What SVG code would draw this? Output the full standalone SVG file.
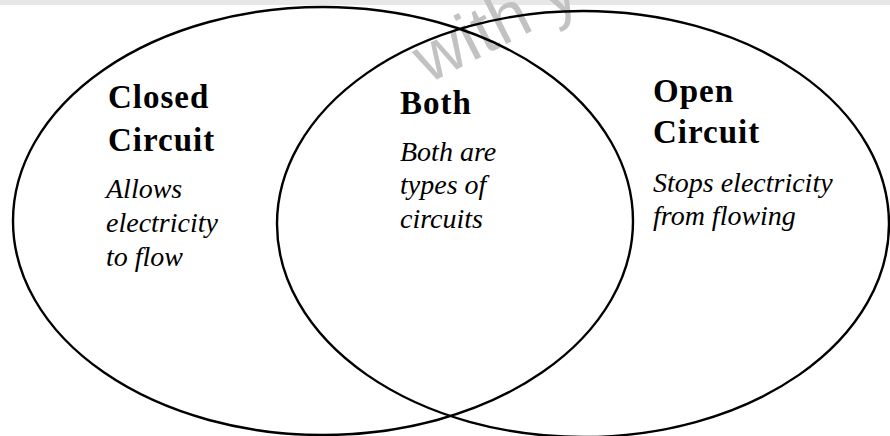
<svg xmlns="http://www.w3.org/2000/svg" width="890" height="436" viewBox="0 0 890 436">
<style>
.ring{fill:none;stroke:#000;stroke-width:2.4}
.h{font-family:"Liberation Serif","Times New Roman",serif;font-weight:bold;font-size:33px;letter-spacing:1px;fill:#000}
.d{font-family:"Liberation Serif","Times New Roman",serif;font-style:italic;font-size:28px;fill:#000}
.wm{font-family:"Liberation Sans",Arial,sans-serif;font-size:68px;fill:#c2c2c2}
</style>
<rect x="0" y="0" width="890" height="5" fill="#e6e7e8"/>
<text class="wm" transform="translate(428,84) rotate(-27)">with y</text>
<g id="connectors"></g>
<g id="closed-circuit">
<ellipse class="ring" cx="323" cy="221" rx="310" ry="214"/>
<text class="h" x="108" y="108">Closed</text>
<text class="h" x="108" y="151">Circuit</text>
<text class="d" x="106" y="198">Allows</text>
<text class="d" x="106" y="232">electricity</text>
<text class="d" x="106" y="266">to flow</text>
</g>
<g id="open-circuit">
<ellipse class="ring" cx="583" cy="224" rx="306" ry="213"/>
<text class="h" x="653" y="102">Open</text>
<text class="h" x="653" y="143">Circuit</text>
<text class="d" x="653" y="192">Stops electricity</text>
<text class="d" x="653" y="225">from flowing</text>
</g>
<g id="both">
<text class="h" x="400" y="114">Both</text>
<text class="d" x="400" y="161">Both are</text>
<text class="d" x="400" y="194">types of</text>
<text class="d" x="400" y="228">circuits</text>
</g>
</svg>
